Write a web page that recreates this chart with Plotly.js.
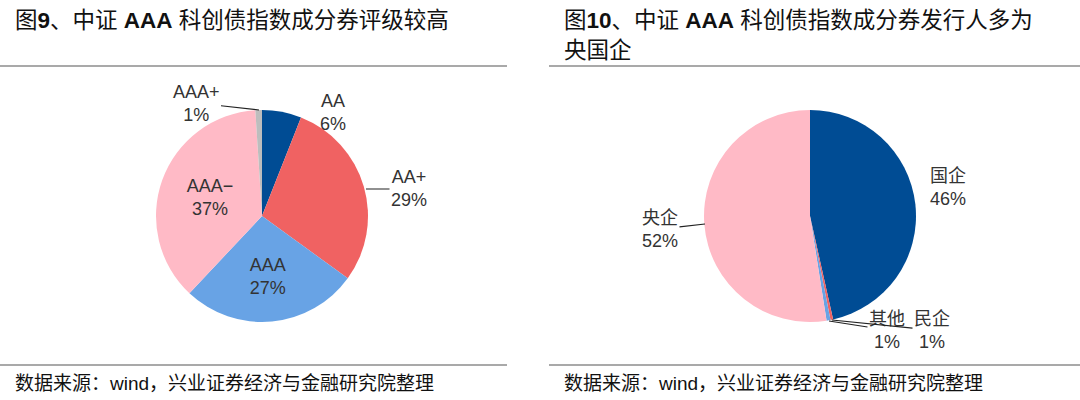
<!DOCTYPE html>
<html>
<head>
<meta charset="utf-8">
<script src="https://cdn.plot.ly/plotly-3.0.1.min.js"></script>
<style>
  html, body { margin: 0; padding: 0; background: #fff; }
  #chart { width: 1080px; height: 400px; }
</style>
</head>
<body>
<div id="chart"></div>
<script>
// 图9: rating mix
const ratingLabels = ['AA', 'AA+', 'AAA', 'AAA\u2212', 'AAA+'];
const ratingValues = [6, 29, 27, 37, 1];
const ratingPct = ['6%', '29%', '27%', '37%', '1%'];
const ratingColors = ['#004C94', '#F06262', '#68A3E5', '#FFBAC6', '#BDBDBD'];

// 图10: issuer type
const issuerLabels = ['国企', '民企', '其他', '央企'];
const issuerValues = [46.5, 0.4, 0.6, 52.5];
const issuerPct = ['46%', '1%', '1%', '52%'];
const issuerColors = ['#004C94', '#F06262', '#68A3E5', '#FFBAC6'];

const FONT = 'Liberation Sans, Arial, Noto Sans CJK SC, sans-serif';
const W = 1080, H = 400;
const px = x => x / W;
const py = y => 1 - y / H;

function pieTrace(labels, values, pct, colors, positions, cx) {
  return {
    type: 'pie',
    labels: labels,
    values: values,
    text: pct,
    texttemplate: '%{label}<br>%{text}',
    textposition: positions,
    insidetextorientation: 'horizontal',
    sort: false,
    direction: 'clockwise',
    rotation: 0,
    marker: { colors: colors, line: { width: 0 } },
    textfont: { family: FONT, size: 18, color: '#333' },
    showlegend: false,
    hoverinfo: 'label+percent',
    domain: { x: [px(cx - 106), px(cx + 106)], y: [py(322), py(110)] },
  };
}

// big inside slices keep plotly's own labels, outside ones are placed as callouts
const data = [
  pieTrace(ratingLabels, ratingValues, ratingPct, ratingColors,
    ['none', 'none', 'inside', 'inside', 'none'], 262),
  pieTrace(issuerLabels, issuerValues, issuerPct, issuerColors,
    ['none', 'none', 'none', 'none'], 810),
];

function hline(x0, x1, y) {
  return { type: 'line', xref: 'paper', yref: 'paper',
    x0: px(x0), x1: px(x1), y0: py(y), y1: py(y),
    line: { color: '#555', width: 1.2 } };
}

function note(text, x, y, size) {
  return { xref: 'paper', yref: 'paper', x: px(x), y: py(y),
    xanchor: 'left', yanchor: 'middle', showarrow: false, align: 'left',
    text: text, font: { family: FONT, size: size, color: '#111' } };
}

// outside label: text centred at (x, y); with a tip it gets a leader line to the slice
function callout(labels, pct, i, x, y, tip) {
  const a = { xref: 'paper', yref: 'paper', showarrow: false,
    xanchor: 'center', yanchor: 'middle',
    text: labels[i] + '<br>' + pct[i],
    font: { family: FONT, size: 18, color: '#333' } };
  if (!tip) return Object.assign(a, { x: px(x), y: py(y) });
  return Object.assign(a, { x: px(tip[0]), y: py(tip[1]),
    ax: x - tip[0], ay: y - tip[1], showarrow: true, arrowhead: 0,
    arrowwidth: 1.2, arrowcolor: '#222', standoff: 0 });
}

const layout = {
  width: W, height: H,
  margin: { l: 0, r: 0, t: 0, b: 0 },
  paper_bgcolor: '#fff',
  font: { family: FONT },
  shapes: [
    hline(0, 507, 66), hline(549, 1080, 66),
    hline(0, 507, 365), hline(549, 1080, 365),
  ],
  annotations: [
    note('图<b>9</b>、中证 <b>AAA</b> 科创债指数成分券评级较高', 13, 20, 22.5),
    note('图<b>10</b>、中证 <b>AAA</b> 科创债指数成分券发行人多为', 562, 20, 22.5),
    note('央国企', 562, 50, 22.5),
    note('数据来源：wind，兴业证券经济与金融研究院整理', 13, 383, 19),
    note('数据来源：wind，兴业证券经济与金融研究院整理', 562, 383, 19),
    callout(ratingLabels, ratingPct, 0, 333, 112),
    callout(ratingLabels, ratingPct, 1, 409, 189, [366, 189]),
    callout(ratingLabels, ratingPct, 4, 196, 103, [259, 110]),
    callout(issuerLabels, issuerPct, 0, 948, 187),
    callout(issuerLabels, issuerPct, 3, 660, 229, [705, 224]),
    callout(issuerLabels, issuerPct, 2, 887, 330, [829, 321]),
    callout(issuerLabels, issuerPct, 1, 932, 330, [832, 320]),
  ],
};

Plotly.newPlot('chart', data, layout, { staticPlot: true });
</script>
</body>
</html>
